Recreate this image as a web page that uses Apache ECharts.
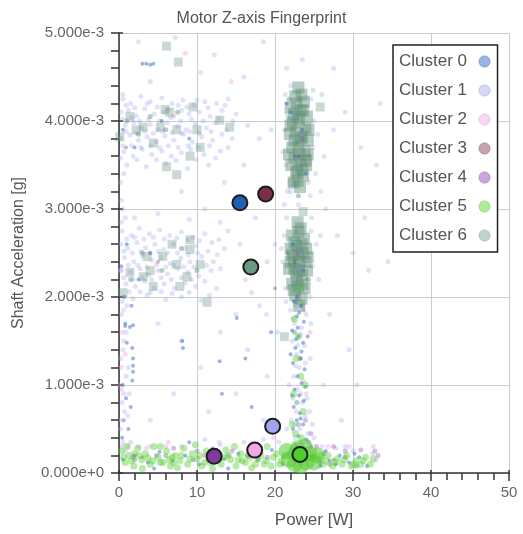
<!DOCTYPE html>
<html>
<head>
<meta charset="utf-8">
<script src="https://cdn.jsdelivr.net/npm/echarts@6/dist/echarts.min.js"></script>
<style>html,body{margin:0;padding:0;background:#fff}#chart{width:523px;height:534px}</style>
</head>
<body>
<div id="chart"></div>
<script>
// ---- data (x: Power [W], y: Shaft Acceleration in units of 1e-3 g) ----
const clusterNames = ['Cluster 0','Cluster 1','Cluster 2','Cluster 3','Cluster 4','Cluster 5','Cluster 6'];
const xTicks = [0, 10, 20, 30, 40, 50];
const yTicks = [0, 1, 2, 3, 4, 5];
const centroidPower = [15.5, 19.7, 17.4, 18.8, 12.2, 23.2, 16.9];
const centroidAccel = [3.07, 0.53, 0.26, 3.17, 0.19, 0.21, 2.34];

const cluster0 = [
 [22.4,1.95],[23.3,1.9],[22.8,1.78],[23.7,1.72],[22.2,1.62],[23.0,1.55],[23.6,1.48],[22.6,1.42],[23.3,1.3],[22.3,1.25],
 [23.8,1.18],[22.9,1.1],[23.4,1.02],[22.5,0.95],[23.1,0.88],[23.7,0.82],[22.4,0.75],[23.2,0.68],[22.8,0.6],[23.6,0.55],
 [22.3,0.5],[23.0,0.42],[24.0,0.38],[22.6,0.32],[23.4,1.38],[22.9,1.65],[22.0,4.1],[23.5,3.9],[22.5,3.6],[23.9,3.4],
 [22.3,2.6],[23.6,2.3],[22.8,2.0],[21.5,4.2],[0.8,1.7],[1.8,1.68],[1.0,1.48],[1.7,1.42],[1.8,1.3],[1.8,1.22],
 [1.8,1.15],[1.7,1.05],[0.5,1.0],[0.9,0.85],[1.5,0.75],[0.6,0.6],[1.2,0.5],[0.4,0.4],[1.6,1.9],[0.7,2.0],
 [3.0,4.65],[3.5,4.65],[4.0,4.64],[4.4,4.65],[0.5,3.9],[2.0,3.7],[5.5,4.0],[9.0,3.8],[1.0,2.6],[2.5,2.2],
 [4.0,2.5],[0.3,2.35],[0.8,1.67],[1.4,1.66],[8.1,1.5],[8.2,1.42],[12.9,1.27],[15.1,1.76],[16.2,1.3],[13.2,0.9],
 [17.0,0.75],[19.5,1.6],[0.5,0.15],[2.0,0.2],[3.7,0.12],[5.2,0.24],[6.9,0.14],[8.5,0.2],[10.3,0.1],[12.0,0.28],
 [13.5,0.16],[15.3,0.22],[17.8,0.15],[19.6,0.26],[21.0,0.1],[24.6,0.3],[25.8,0.08],[27.0,0.14],[28.3,0.2],[29.5,0.12],
 [30.8,0.18],[31.8,0.08],[26.5,0.25],[4.5,0.05],[9.0,0.35],[14.0,0.05],[22.1,0.2],[24.9,0.18],[27.8,0.1],[30.2,0.22],
 [23.1,1.82],[22.7,1.52],[23.9,0.98],[22.2,0.88],[23.3,0.62],[24.2,1.55],[22.0,1.35]
];
const cluster1 = [
 [0.5,4.25],[1.5,4.2],[2.8,4.28],[4.0,4.22],[5.5,4.26],[6.8,4.2],[8.2,4.24],[9.6,4.18],[11.0,4.22],[12.5,4.2],[14.0,4.25],
 [0.3,4.1],[1.2,4.12],[2.2,4.06],[3.3,4.14],[4.5,4.08],[5.8,4.1],[7.0,4.05],[8.0,4.12],[9.0,4.08],[10.3,4.1],[11.7,4.05],[13.2,4.12],[15.0,4.08],
 [0.8,3.95],[1.9,3.98],[2.9,3.92],[4.0,3.96],[5.0,3.9],[6.2,3.98],[7.5,3.94],[8.6,3.9],[9.8,3.97],[11.2,3.92],[12.3,3.98],[13.8,3.9],[16.5,3.95],
 [0.2,3.8],[1.4,3.84],[2.5,3.78],[3.6,3.82],[4.8,3.76],[5.9,3.83],[7.0,3.78],[8.3,3.85],[9.4,3.76],[10.6,3.82],[12.0,3.78],[14.5,3.8],
 [0.6,3.65],[1.8,3.6],[3.0,3.68],[4.2,3.62],[5.5,3.66],[6.7,3.6],[8.0,3.64],[9.2,3.68],[10.9,3.62],[13.0,3.66],
 [1.0,3.5],[3.5,3.48],[6.0,3.52],[8.8,3.46],[11.5,3.5],
 [0.9,4.18],[2.0,4.15],[3.6,4.2],[4.9,4.16],[6.3,4.14],[7.6,4.18],[8.7,4.16],[10.0,4.24],[11.4,4.15],[13.6,4.18],
 [0.4,4.02],[1.6,4.04],[2.6,4.0],[3.8,4.02],[5.2,4.0],[6.6,4.04],[7.9,4.0],[9.3,4.02],[10.8,4.0],[12.8,4.03],[14.6,4.0],
 [0.9,3.88],[2.2,3.86],[3.3,3.88],[4.4,3.86],[5.6,3.88],[6.8,3.87],[8.0,3.86],[9.1,3.88],[10.3,3.86],[11.8,3.88],[13.2,3.85],
 [0.5,3.72],[1.6,3.72],[2.8,3.7],[4.1,3.72],[5.2,3.7],[6.3,3.72],[7.6,3.7],[8.9,3.72],[10.2,3.7],[11.6,3.72],[14.0,3.7],
 [0.2,3.58],[2.3,3.56],[4.8,3.56],[7.3,3.55],[9.9,3.56],[12.4,3.58],
 [0.4,2.75],[1.6,2.7],[2.6,2.78],[3.9,2.72],[5.2,2.76],[6.5,2.7],[8.0,2.74],[9.5,2.68],[11.0,2.72],[12.8,2.65],
 [0.2,2.6],[1.1,2.55],[2.3,2.62],[3.4,2.56],[4.6,2.6],[5.7,2.54],[7.0,2.6],[8.4,2.55],[9.9,2.58],[11.4,2.52],[13.5,2.55],
 [0.7,2.45],[1.9,2.4],[3.0,2.47],[4.2,2.42],[5.4,2.45],[6.6,2.38],[7.9,2.44],[9.1,2.4],[10.6,2.46],[12.1,2.4],
 [0.3,2.3],[1.5,2.28],[2.7,2.32],[3.8,2.25],[5.0,2.3],[6.2,2.26],[7.5,2.32],[8.8,2.28],[10.2,2.24],[11.8,2.3],
 [0.9,2.15],[2.1,2.12],[3.3,2.18],[4.5,2.1],[5.8,2.15],[7.1,2.1],[8.5,2.16],[9.8,2.12],[12.5,2.1],
 [0.5,2.0],[1.8,1.98],[3.6,2.02],[6.0,1.97],[8.0,2.0],[10.5,1.96],
 [1.0,2.66],[2.0,2.68],[3.2,2.66],[4.4,2.68],[5.8,2.66],[7.4,2.67],[8.8,2.65],[10.3,2.64],[11.9,2.62],
 [0.6,2.52],[1.7,2.5],[2.8,2.52],[4.0,2.5],[5.1,2.52],[6.2,2.5],[7.5,2.5],[8.9,2.48],[10.1,2.5],[12.6,2.48],
 [1.2,2.36],[2.4,2.36],[3.6,2.34],[4.8,2.37],[6.0,2.34],[7.0,2.36],[8.3,2.34],[9.6,2.34],[11.2,2.36],[13.0,2.32],
 [0.6,2.22],[1.8,2.2],[3.0,2.22],[4.2,2.2],[5.4,2.22],[6.7,2.2],[8.0,2.22],[9.3,2.2],[11.0,2.18],
 [1.3,2.06],[2.7,2.06],[4.0,2.05],[5.4,2.06],[6.8,2.04],[9.0,2.05],[11.6,2.02],
 [2.0,2.9],[5.0,2.95],[9.0,2.88],[13.0,2.85],[15.5,2.6],[16.2,2.2],
 [21.3,4.3],[22.0,4.4],[24.6,4.25],[25.0,4.0],[21.2,3.9],[24.8,3.7],[21.4,3.5],[25.2,3.4],[22.0,3.2],[24.5,3.15],
 [23.0,3.05],[21.6,4.05],[24.9,4.35],[25.5,3.85],[26.3,3.6],[21.0,3.65],
 [21.6,3.2],[24.3,3.3],[21.5,2.9],[24.7,2.9],[21.4,1.95],[24.6,1.7],[25.8,2.7],[25.9,3.2],[21.2,3.05],
 [21.2,2.7],[24.6,2.75],[21.0,2.4],[24.8,2.35],[25.3,2.6],[21.3,2.1],[24.5,2.0],[22.0,1.85],[24.0,1.8],[25.6,2.2],[20.8,2.55],
 [22.5,1.7],[23.4,1.65],[22.2,1.5],[23.8,1.45],[22.8,1.35],[23.1,1.2],[22.4,1.1],[23.6,1.05],[22.9,0.95],[22.3,0.85],
 [23.5,0.8],[22.7,0.7],[23.9,0.65],[22.1,0.6],[23.2,0.5],[24.2,0.45],[22.6,0.4],[21.8,1.0],[24.5,1.3],
 [22.6,1.9],[23.7,1.85],[22.3,1.75],[23.3,1.58],[22.9,1.45],[23.9,1.25],[22.6,1.22],[23.3,0.9],[24.1,0.85],[22.5,0.55],[23.6,0.35],[24.4,0.7],
 [0.2,3.3],[0.5,3.0],[0.3,2.85],[1.0,1.9],[0.3,1.8],[0.6,1.5],[0.2,1.3],[0.9,1.1],[0.4,0.8],[1.1,0.65],[0.2,0.5],[0.8,0.25],
 [0.6,3.4],[0.3,3.1],[0.8,2.9],[0.4,1.95],[0.9,1.6],[0.5,1.4],[1.2,1.2],[0.3,0.95],[0.7,0.7],[0.4,0.3],[1.3,0.9],[0.5,4.3],
 [1.5,0.35],[4.0,0.3],[6.3,0.35],[8.0,0.3],[11.0,0.38],[13.0,0.32],[16.0,0.35],[18.5,0.38],[20.5,0.35],[25.0,0.4],
 [26.0,0.3],[27.8,0.28],[29.0,0.3],[30.0,0.25],[32.5,0.22],[33.0,0.15],[24.8,0.55],[21.5,0.5],
 [2.5,4.9],[7.2,4.95],[12.2,4.75],[18.5,4.9],[21.5,4.6],[23.5,4.7],[16.0,4.5],[10.5,4.55],[4.0,4.45],
 [8.0,3.2],[11.0,3.0],[13.5,3.3],[16.0,3.5],[18.0,3.8],[19.5,3.9],[17.5,2.9],[14.0,2.75],[19.0,2.4],[17.0,2.05],
 [20.0,2.6],[15.0,1.8],[18.0,1.9],[5.0,1.7],[8.0,1.5],[10.5,1.2],[13.0,1.6],[16.5,1.4],[19.0,1.1],[7.0,0.9],
 [11.5,0.7],[15.0,0.9],[18.5,0.6],[20.3,1.6],[4.0,0.6],[26.0,4.3],[27.5,3.9],[29.0,4.1],[31.0,3.7],[33.0,3.5],
 [26.5,3.0],[28.0,2.7],[30.0,2.5],[32.0,2.3],[34.5,2.4],[27.0,1.8],[29.5,1.4],[31.5,2.9],[26.2,1.0],[28.5,0.6],
 [30.5,1.0],[27.5,4.6],[33.5,4.2]
];
const cluster2 = [
 [0.3,0.6],[0.6,0.9],[0.3,1.2],[0.8,1.35],[0.4,1.6],[0.2,2.3],[0.5,0.35],[1.2,0.3],[2.5,0.3],[6.0,0.3],
 [12.8,0.35],[19.8,0.4],[24.0,0.9],[24.5,1.6],[29.5,0.3],[32.6,0.3],[18.9,1.8],[14.4,4.45],[8.5,4.77],[0.2,1.0],
 [0.6,1.85],[24.3,0.28],[26.8,0.3],[3.5,0.28]
];
const cluster3 = [
 [0.9,3.7],[5.0,2.4],[23.0,3.6],[22.5,2.4],[14.0,0.2],[27.5,0.15],[20.0,2.1],[3.0,0.18]
];
const cluster4 = [
 [1.8,0.18],[4.8,0.2],[7.0,0.28],[9.5,0.15],[11.0,0.2],[14.5,0.25],[16.5,0.2],[19.0,0.18],[24.3,0.35],[25.3,0.3],
 [26.3,0.22],[27.5,0.3],[29.0,0.25],[31.0,0.26],[32.8,0.25],[33.2,0.2],[23.9,0.6],[24.6,0.45],[23.0,2.5],[23.5,3.8],
 [24.8,0.2],[25.8,0.12]
];
const cluster5 = [
 [0.3,0.25],[0.8,0.12],[1.3,0.2],[1.9,0.08],[2.4,0.28],[2.9,0.15],[3.4,0.22],[4.0,0.1],[4.5,0.3],[5.0,0.18],
 [5.6,0.12],[6.1,0.25],[6.6,0.08],[7.2,0.2],[7.8,0.14],[8.3,0.28],[8.8,0.1],[9.4,0.22],[10.0,0.16],[10.6,0.08],
 [11.2,0.25],[11.8,0.12],[12.5,0.2],[13.1,0.1],[13.7,0.26],[14.3,0.15],[15.0,0.08],[15.6,0.22],[16.2,0.12],[16.8,0.18],
 [17.5,0.1],[18.2,0.2],[18.9,0.14],[19.5,0.08],[20.2,0.22],[1.0,0.3],[3.0,0.05],[5.3,0.3],[7.5,0.06],[9.8,0.32],
 [12.0,0.05],[14.8,0.3],[17.0,0.06],[19.0,0.3],[25.5,0.15],[26.2,0.1],[26.8,0.2],[27.4,0.08],[28.0,0.16],[28.6,0.1],
 [29.2,0.2],[29.8,0.08],[30.4,0.14],[31.0,0.1],[31.6,0.18],[32.2,0.1],[22.4,0.9],[23.3,1.1],[22.7,1.3],[23.6,0.7],
 [22.2,0.55],[23.0,1.55],[23.9,1.0],[22.6,0.45],[23.1,2.1],[22.5,1.75],[23.4,0.4],[2.0,0.22],[6.8,0.18],[11.5,0.15],
 [15.8,0.14],[20.8,0.14],
 [0.6,0.18],[1.6,0.14],[2.6,0.2],[3.7,0.17],[4.3,0.14],[5.3,0.12],[6.4,0.15],[7.0,0.12],[8.0,0.2],[9.1,0.16],
 [10.3,0.2],[11.0,0.12],[12.2,0.15],[13.4,0.18],[14.0,0.2],[15.3,0.15],[16.5,0.2],[17.8,0.16],[18.6,0.1],[19.8,0.18],
 [20.6,0.1],[21.2,0.2],[26.5,0.14],[27.7,0.12],[28.9,0.15],[30.1,0.1],[31.3,0.14],[32.6,0.16],[25.9,0.2]
];
const cluster5Core = [
 [21.8,0.15],[22.5,0.1],[22.6,0.22],[23.3,0.08],[23.3,0.2],[24.0,0.12],[24.4,0.22],[25.0,0.12],[22.9,0.28],[23.8,0.3],
 [21.5,0.25],[25.4,0.2]
];
const cluster6 = [
 [22.5,1.6],[23.2,1.3],[22.8,0.8],[23.5,1.9],[23.0,0.55],[2.0,0.15],[6.0,0.2],[10.0,0.25],[27.0,0.1],[29.0,0.18],
 [30.5,0.08],[1.0,4.0],[2.5,3.85],[4.0,4.05],[6.0,3.9],[7.5,4.1],[3.0,2.5],[5.5,2.3],[8.0,2.55],[1.5,2.2],[10.0,2.3],
 [21.8,4.25],[24.4,3.6],[21.7,2.5],[24.3,2.2],[23.0,3.15],[22.6,1.95]
];
const cluster6Squares = [
 [6.1,4.85],[7.6,4.67],[9.5,4.16],[5.9,4.13],[6.5,4.1],[1.4,4.05],[3.1,3.93],[5.3,3.93],[7.4,3.9],[10.0,3.9],
 [12.9,4.01],[14.2,3.93],[0.1,3.82],[9.1,3.6],[6.1,3.48],[7.4,3.39],[4.4,3.75],[10.4,3.7],[22.2,3.3],[23.6,2.97],
 [25.8,4.16],[6.8,2.6],[9.1,2.65],[9.1,2.54],[5.6,2.46],[3.6,2.46],[7.4,2.37],[10.4,2.37],[1.4,2.28],[4.4,2.12],
 [7.8,2.12],[0.5,2.05],[11.3,1.94],[8.7,2.23],[3.1,2.23],[21.2,1.55],[2.2,3.9],[4.0,2.3]
];
const cluster6Core = [
 [22.0,4.15],[22.8,4.2],[23.6,4.12],[24.1,4.05],[22.3,3.98],[23.1,4.02],[23.9,3.92],[21.9,3.85],[22.7,3.88],[23.5,3.82],
 [24.2,3.78],[22.2,3.7],[23.0,3.72],[23.8,3.66],[22.5,3.58],[23.3,3.55],[24.0,3.5],[22.1,3.5],[22.9,3.44],[23.6,3.38],
 [22.6,4.28],[23.4,4.3],[22.4,3.3],[23.2,3.25],[23.0,4.38],
 [22.4,4.08],[23.3,4.12],[22.0,3.95],[23.7,4.22],[24.3,3.9],[22.5,3.78],[23.3,3.8],[21.8,3.62],[24.2,3.62],[23.1,3.62],
 [22.7,3.42],[23.5,3.45],[22.8,4.05],[23.9,3.55],[22.9,3.32],
 [22.2,2.7],[23.0,2.74],[23.7,2.66],[22.0,2.55],[22.8,2.58],[23.6,2.5],[24.2,2.45],[22.4,2.42],[23.2,2.4],[21.8,2.32],
 [22.7,2.28],[23.5,2.25],[24.1,2.3],[22.2,2.15],[23.0,2.12],[23.8,2.1],[22.6,2.02],[23.4,1.98],[22.9,2.85],[23.1,1.9],
 [22.5,2.62],[23.4,2.6],[22.2,2.48],[23.0,2.48],[23.9,2.4],[22.5,2.32],[23.1,2.3],[22.0,2.4],[22.8,2.18],[23.5,2.15],
 [24.0,2.55],[22.4,2.08],[23.3,2.78]
];

// ---- styles ----
const FONT = 'Liberation Sans, Arial, sans-serif';
const dotColors = ['#3a6cc8','#9c9cf0','#f0a0e8','#8a3a50','#9040b0','#55cc33','#5f9078'];
const centroidColors = ['#1f5fb4','#9fa6ee','#f2a6e6','#7a2e48','#7d3b9b','#4fcf2a','#6b9a82'];
const legendColors = ['#98b4e4','#d6d6f6','#f7d8f2','#c8a4ac','#c8a8dc','#b0ec98','#c0d6cc'];
const legendBorders = ['#7e9fd6','#c0c0ee','#ecc6e6','#b08890','#b08cc8','#96dc7c','#a6c4b6'];

const milli = pts => pts.map(p => [p[0], p[1] / 1000]);

function scat(idx, pts, size, opacity, symbol, z) {
  return {
    type: 'scatter', name: clusterNames[idx], data: milli(pts),
    symbol: symbol || 'circle', symbolSize: size, z: z || 2,
    itemStyle: { color: dotColors[idx], opacity: opacity },
    emphasis: { disabled: true }, silent: true
  };
}

const series = [
  scat(1, cluster1, 5, 0.3),
  scat(6, cluster6Squares, 9, 0.33, 'rect'),
  scat(6, cluster6Core, 12, 0.45, 'rect'),
  scat(6, cluster6, 5, 0.45),
  scat(0, cluster0, 4, 0.5),
  scat(2, cluster2, 5, 0.4),
  scat(3, cluster3, 4, 0.35),
  scat(4, cluster4, 5, 0.35),
  scat(5, cluster5, 7, 0.42),
  scat(5, cluster5Core, 16, 0.55),
  {
    type: 'scatter', name: 'centroids', z: 10, symbolSize: 15, silent: true,
    data: centroidPower.map((x, i) => ({
      value: [x, centroidAccel[i] / 1000],
      itemStyle: { color: centroidColors[i], borderColor: '#1c1c1c', borderWidth: 2, opacity: 1 }
    })),
    emphasis: { disabled: true }
  }
];

const chart = echarts.init(document.getElementById('chart'), null, { renderer: 'canvas' });
chart.setOption({
  animation: false,
  backgroundColor: '#fff',
  textStyle: { fontFamily: FONT },
  title: {
    text: 'Motor Z-axis Fingerprint', left: 'center', top: 6,
    textStyle: { fontFamily: FONT, fontSize: 16, fontWeight: 'normal', color: '#555' }
  },
  legend: {
    orient: 'vertical', left: 393, top: 45, align: 'right',
    data: clusterNames.map((n, i) => ({
      name: n, icon: 'circle',
      itemStyle: { color: legendColors[i], opacity: 1, borderColor: legendBorders[i], borderWidth: 1 }
    })),
    itemWidth: 11, itemHeight: 11, itemGap: 12,
    padding: [8, 7, 8, 6],
    backgroundColor: '#fff', borderColor: '#222', borderWidth: 1.5,
    textStyle: { fontFamily: FONT, fontSize: 17, color: '#555', padding: [0, 7, 0, 0] },
    selectedMode: false
  },
  grid: { left: 119, right: 14, top: 33, bottom: 60 },
  xAxis: [{
    type: 'value', min: xTicks[0], max: xTicks[xTicks.length - 1], interval: xTicks[1] - xTicks[0],
    name: 'Power [W]', nameLocation: 'middle', nameGap: 39,
    nameTextStyle: { fontFamily: FONT, fontSize: 17, color: '#555' },
    axisLine: { show: true, onZero: false, lineStyle: { color: '#333', width: 1.5 } },
    axisTick: { show: true, length: 8, lineStyle: { color: '#333', width: 1.5 } },
    minorTick: { show: true, splitNumber: 5, length: 7, lineStyle: { color: '#333', width: 1.5 } },
    axisLabel: { fontFamily: FONT, fontSize: 15, color: '#666', margin: 12 },
    splitLine: { show: true, lineStyle: { color: '#ccc', width: 1 } }
  }, {
    type: 'value', min: xTicks[0], max: xTicks[xTicks.length - 1], interval: xTicks[1] - xTicks[0],
    position: 'bottom',
    axisLine: { show: false }, axisLabel: { show: false }, splitLine: { show: false },
    axisTick: { show: true, inside: true, length: 3, lineStyle: { color: '#333', width: 1.5 } }
  }],
  yAxis: [{
    type: 'value', min: yTicks[0] / 1000, max: yTicks[yTicks.length - 1] / 1000, interval: (yTicks[1] - yTicks[0]) / 1000,
    name: 'Shaft Acceleration [g]', nameLocation: 'middle', nameGap: 92,
    nameTextStyle: { fontFamily: FONT, fontSize: 16, color: '#555' },
    axisLine: { show: true, onZero: false, lineStyle: { color: '#333', width: 1.5 } },
    axisTick: { show: true, length: 8, lineStyle: { color: '#333', width: 1.5 } },
    minorTick: { show: true, splitNumber: 5, length: 8, lineStyle: { color: '#333', width: 1.5 } },
    axisLabel: { fontFamily: FONT, fontSize: 15, color: '#666', margin: 15,
      formatter: v => Number(v).toExponential(3) },
    splitLine: { show: true, lineStyle: { color: '#ccc', width: 1 } }
  }, {
    type: 'value', min: yTicks[0] / 1000, max: yTicks[yTicks.length - 1] / 1000, interval: (yTicks[1] - yTicks[0]) / 1000,
    position: 'left',
    axisLine: { show: false }, axisLabel: { show: false }, splitLine: { show: false },
    axisTick: { show: true, inside: true, length: 4, lineStyle: { color: '#333', width: 1.5 } }
  }],
  series: series
});
</script>
</body>
</html>
